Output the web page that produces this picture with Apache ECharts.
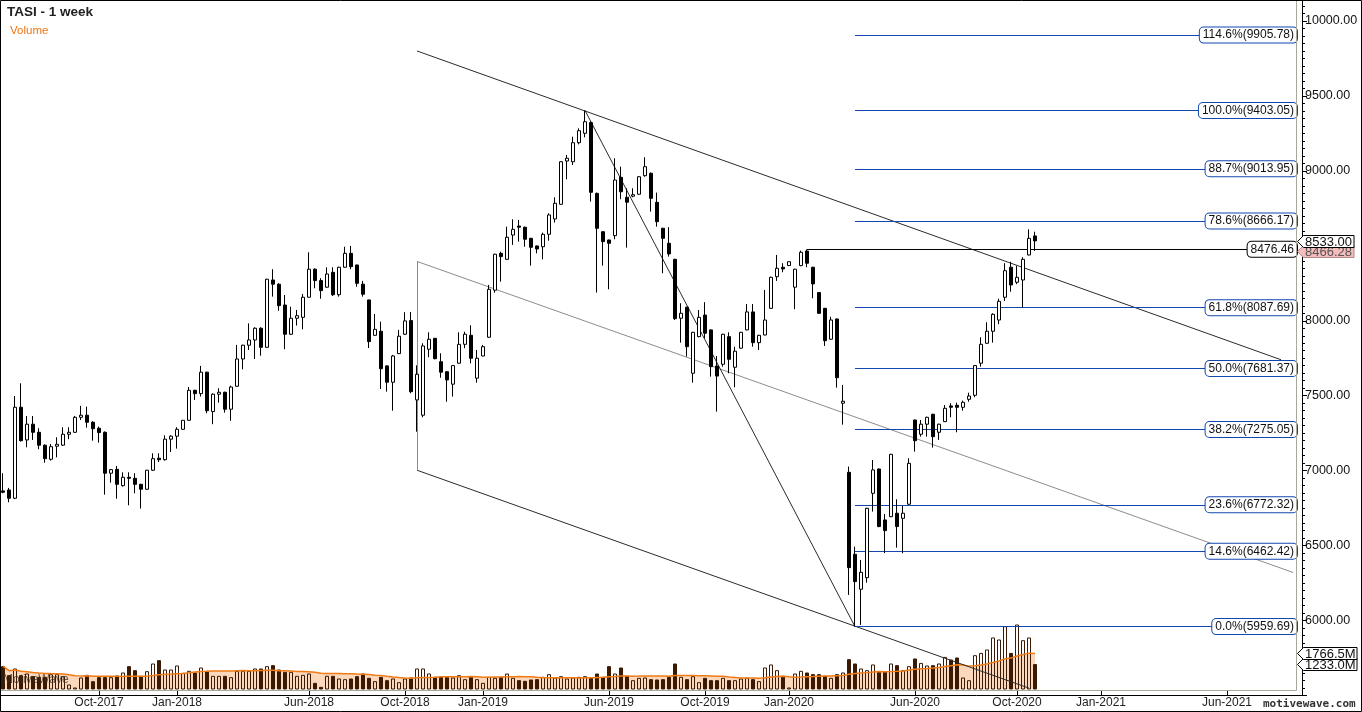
<!DOCTYPE html>
<html><head><meta charset="utf-8">
<script src="https://cdn.jsdelivr.net/npm/echarts@6/dist/echarts.min.js"></script>
<style>html,body{margin:0;padding:0;background:#fff;}#c{width:1362px;height:712px;}</style>
</head><body><div id="c"></div>
<script>
// ---- data (weekly TASI) ----
const opens = [6865,6871,6816,7423,7205,7310,7256,7170,7076,7163,7170,7243,7256,7356,7370,7323,7283,7256,6983,7009,6900,6956,6949,6909,6876,7003,7083,7073,7210,7230,7276,7336,7536,7514,7657,7394,7510,7523,7410,7563,7745,7837,7872,7950,7823,8272,8244,8105,7910,8017,8023,8157,8344,8268,8224,8323,8174,8357,8450,8372,8244,8139,7903,7930,7699,7590,7781,7910,8001,7472,7370,7810,7883,7727,7660,7577,7717,7843,7903,7617,7765,7890,8204,8450,8410,8572,8632,8624,8550,8499,8494,8577,8679,8777,9066,9061,9188,9251,9322,8850,8594,8539,8568,8957,8824,8831,8844,8968,8984,8790,8617,8517,8410,8017,8090,7650,7894,8038,7939,7698,7710,7894,7690,7817,7939,8059,7854,7905,8083,8294,8357,8368,8224,8368,8465,8357,8188,8083,7877,8012,7450,6989,6442,6209,6286,6849,7011,6671,6693,6716,6682,6776,7338,7243,7310,7376,7256,7327,7432,7436,7423,7476,7503,7717,7850,7930,8005,8157,8357,8257,8272,8439,8566];
const highs = [6983,6885,7498,7583,7365,7365,7283,7175,7178,7223,7290,7290,7365,7432,7427,7330,7294,7262,7010,7031,6989,6989,6983,6912,7005,7116,7116,7236,7236,7290,7338,7558,7540,7699,7660,7516,7550,7527,7567,7839,7840,7983,7957,7957,8280,8344,8250,8172,8094,8072,8179,8457,8350,8284,8357,8357,8360,8494,8499,8375,8266,8140,8045,7994,7703,7772,7939,8057,8059,7703,7850,7923,7885,7783,7665,7703,7923,7927,7970,7805,7839,8239,8447,8461,8628,8677,8673,8628,8553,8502,8588,8717,8824,9065,9106,9228,9284,9403.05,9330,8855,8597,8541,9084,9028,8884,8884,8964,9091,8990,8855,8620,8624,8413,8117,8094,7926,8072,8124,7942,7765,7913,7923,7827,7926,8112,8112,7906,8206,8294,8439,8384,8396,8347,8468,8476.46,8360,8190,8086,8027,8015,7572,7027,6493,6404,6752,7071,7014,6711,7112,6809,6765,7083,7340,7338,7360,7380,7313,7438,7450,7454,7467,7520,7703,7890,7990,8050,8147,8384,8394,8366,8424,8610,8594];
const lows = [6849,6789,6810,7194,7156,7205,7143,7053,7067,7089,7165,7210,7252,7338,7287,7200,7187,6840,6920,6813,6893,6769,6849,6747,6872,6998,7058,7067,7125,7147,7274,7334,7472,7494,7383,7310,7454,7387,7332,7560,7676,7805,7745,7767,7820,8161,8067,7810,7905,7968,7943,8155,8217,8147,8220,8165,8161,8355,8344,8227,8161,7818,7900,7545,7527,7400,7778,7905,7516,7260,7356,7757,7743,7620,7460,7494,7714,7817,7716,7587,7763,7887,8187,8261,8406,8506,8528,8494,8368,8450,8410,8534,8655,8775,8944,9039,9177,9224,8795,8188,8368,8210,8544,8811,8488,8824,8841,8961,8728,8628,8317,8428,8005,7854,7761,7587,7890,7883,7627,7394,7694,7650,7556,7814,7937,7827,7805,7903,8081,8266,8324,8366,8077,8364,8357,8150,8045,7832,7874,7554,7307,6171,5959.69,5971,6253,6727,6623,6450,6690,6486,6449,6772,7127,7227,7227,7154,7205,7325,7356,7256,7400,7460,7490,7694,7847,7854,7977,8132,8194,8244,8090,8436,8466.28];
const closes = [6856,6816,7423,7200,7310,7256,7170,7080,7160,7176,7243,7256,7356,7370,7323,7280,7254,6983,7007,6909,6956,6949,6909,6876,7003,7080,7073,7210,7230,7276,7336,7536,7514,7657,7400,7510,7523,7410,7558,7745,7837,7872,7950,7823,8277,8244,8101,7910,8017,8034,8157,8344,8268,8201,8312,8174,8357,8450,8361,8250,8177,7861,7943,7680,7590,7765,7897,7999,7527,7643,7832,7877,7747,7657,7605,7701,7843,7910,7750,7750,7827,8210,8444,8428,8557,8610,8624,8544,8490,8479,8577,8706,8784,9061,9084,9188,9268,9328,8857,8617,8528,8517,8939,8861,8791,8841,8961,9028,8817,8661,8550,8446,8014,8050,7827,7923,8023,7917,7694,7631,7910,7743,7797,7923,8059,7854,7903,8005,8290,8350,8346,8394,8344,8457,8384,8246,8050,7867,8005,7620,7463,6353,6260,6322,6749,7005,6627,6600,7109,6627,6716,7049,7200,7310,7356,7227,7310,7416,7423,7423,7456,7498,7701,7843,7930,8043,8130,8334,8239,8290,8410,8550,8533];
const volumes = [1132,695,1019,695,776,647,614,614,744,744,647,243,97,582,711,404,598,598,598,679,825,1132,938,663,889,1261,1423,970,970,1164,808,905,825,1067,905,663,663,663,598,905,905,905,1019,1019,1132,1180,970,857,857,663,711,776,323,129,663,663,534,501,534,647,776,566,404,614,453,534,356,534,582,1019,1019,776,614,614,614,
582,695,501,614,501,323,614,566,614,776,566,453,420,485,501,614,744,582,647,534,582,614,647,566,776,614,1132,776,1067,663,453,566,582,501,485,501,614,1261,614,501,647,356,566,453,453,566,453,453,534,566,501,404,1067,1213,938,663,97,776,905,825,744,744,663,566,744,825,1471,1261,1019,938,1213,857,857,1261,1180,
936,1130,1504,1290,1164,1179,1261,1581,1455,1552,582,451,1664,1775,1940,2522,2425,3070,1775,3153,2391,2522,1233];

const fibLevels = [114.6, 100.0, 88.7, 78.6, 61.8, 50.0, 38.2, 23.6, 14.6, 0.0];
const fibValues = [9905.78, 9403.05, 9013.95, 8666.17, 8087.69, 7681.37, 7275.05, 6772.32, 6462.42, 5959.69];
const FIB_START = 142;           // bar of the 0% low
const resistanceLevel = 8476.46; const RES_START = 134;
const lastPrice = 8533.00; const secondPrice = 8466.28;
const volMA = 1766.5; const lastVol = 1233.0;

// trend lines as [barIndex, price] pairs
const channelUpper = [[69, 9800], [213, 7740]];
const channelMiddle = [[69, 8396], [215, 6321]];
const channelLower = [[69, 7003], [171, 5549]];
const channelLeft = [[69, 8396], [69, 7003]];
const swingLine = [[97, 9403.05], [142, 5959.69]];

const tickLabels = ['Oct-2017','Jan-2018','Jun-2018','Oct-2018','Jan-2019','Jun-2019','Oct-2019','Jan-2020','Jun-2020','Oct-2020','Jan-2021','Jun-2021'];
const tickIndex = [16, 29, 51, 67, 80, 101, 117, 131, 152, 169, 183, 204];
const hiddenPriceLabels = [8500];   // covered by the last-price tags in the original
const TOTAL_SLOTS = 217;

// ---- styles ----
const FONT = '"Liberation Sans", Arial, sans-serif';
const PLOT_RIGHT = 1297;
const FIB_COLOR = '#1447ad';
const VOL_DARK = '#3a1a04';

const categories = Array.from({length: TOTAL_SLOTS}, (_, i) => String(i));
const ohlc = opens.map((o, i) => [o, closes[i], lows[i], highs[i]]);
const up = closes.map((c, i) => c >= opens[i]);
const volData = volumes.map((v, i) => ({
  value: v,
  itemStyle: up[i] ? {color: 'rgba(0,0,0,0)', borderColor: VOL_DARK, borderWidth: 1}
                   : {color: VOL_DARK, borderColor: VOL_DARK, borderWidth: 1}
}));
const ma20 = volumes.map((v, i) => {
  const s = Math.max(0, i - 19); let sum = 0;
  for (let k = s; k <= i; k++) sum += volumes[k];
  return +(sum / (i - s + 1)).toFixed(1);
});
const labelMap = {}; tickIndex.forEach((t, i) => labelMap[t] = tickLabels[i]);

const boxLabel = (text, border) => ({
  show: true, position: 'insideEnd', distance: 0, formatter: text,
  fontFamily: FONT, fontSize: 12, color: '#111', backgroundColor: '#fff',
  borderColor: border, borderWidth: 1, borderRadius: 4, padding: [2, 3, 1, 3]
});
const seg = (pts, color) => [
  {coord: pts[0], lineStyle: {color: color, width: 1, type: 'solid'}, label: {show: false}},
  {coord: pts[1]}
];
const markData = [
  seg(channelUpper, '#2b2b2b'), seg(channelMiddle, '#8c8c8c'), seg(channelLower, '#2b2b2b'),
  seg(channelLeft, '#8c8c8c'), seg(swingLine, '#2b2b2b'),
  [{coord: [RES_START, resistanceLevel], lineStyle: {color: '#000', width: 1, type: 'solid'},
    label: boxLabel(resistanceLevel.toFixed(2), '#000')},
   {coord: [TOTAL_SLOTS - 1, resistanceLevel], x: PLOT_RIGHT}]
].concat(fibLevels.map((lv, i) => [
  {coord: [FIB_START, fibValues[i]], lineStyle: {color: FIB_COLOR, width: 1, type: 'solid'},
   label: boxLabel(lv.toFixed(1) + '%(' + fibValues[i].toFixed(2) + ')', FIB_COLOR)},
  {coord: [TOTAL_SLOTS - 1, fibValues[i]], x: PLOT_RIGHT}
]));

const chart = echarts.init(document.getElementById('c'), null, {width: 1362, height: 712});
chart.setOption({
  animation: false,
  backgroundColor: '#fff',
  grid: [
    {left: 0, right: 60, top: 0, bottom: 16.5},
    {left: 0, right: 60, bottom: 22.5, height: 66}
  ],
  xAxis: [
    {type: 'category', data: categories, gridIndex: 0, boundaryGap: true,
     axisLine: {lineStyle: {color: '#000', width: 1}},
     axisTick: {show: true, inside: true, length: 5, alignWithLabel: true,
                interval: (i) => labelMap[i] !== undefined, lineStyle: {color: '#000'}},
     axisLabel: {interval: (i) => labelMap[i] !== undefined, formatter: (v, i) => labelMap[i] || '',
                 margin: 1, fontFamily: FONT, fontSize: 12, color: '#222'},
     splitLine: {show: false}},
    {type: 'category', data: categories, gridIndex: 1, show: false, boundaryGap: true}
  ],
  yAxis: [
    {type: 'value', gridIndex: 0, position: 'right', min: 5500, max: 10140, interval: 500,
     axisLine: {show: true, lineStyle: {color: '#000'}},
     axisTick: {show: true, length: 5, lineStyle: {color: '#000'}},
     minorTick: {show: true, splitNumber: 10, length: 3, lineStyle: {color: '#000'}},
     splitLine: {show: false},
     axisLabel: {margin: 3, fontFamily: FONT, fontSize: 12.5, color: '#111',
                 formatter: (v) => (v >= 6000 && v <= 10000 && v % 500 === 0 && hiddenPriceLabels.indexOf(v) < 0) ? v.toFixed(2) : ''}},
    {type: 'value', gridIndex: 1, min: 0, max: 3200, show: false, splitLine: {show: false}}
  ],
  series: [
    {type: 'line', name: 'volMAArea', xAxisIndex: 1, yAxisIndex: 1, data: ma20, showSymbol: false,
     symbol: 'none', lineStyle: {width: 0}, areaStyle: {color: '#fbd8bb', opacity: 1}, z: 1, silent: true},
    {type: 'bar', name: 'Volume', xAxisIndex: 1, yAxisIndex: 1, data: volData, barWidth: 4, z: 2, silent: true},
    {type: 'line', name: 'volMA', xAxisIndex: 1, yAxisIndex: 1, data: ma20, showSymbol: false,
     symbol: 'none', lineStyle: {color: '#f07a14', width: 1.5}, z: 3, silent: true},
    {type: 'candlestick', name: 'TASI', xAxisIndex: 0, yAxisIndex: 0, data: ohlc, barWidth: 4, z: 5,
     itemStyle: {color: '#fff', color0: '#000', borderColor: '#000', borderColor0: '#000', borderWidth: 1},
     markLine: {silent: true, symbol: ['none', 'none'], animation: false, label: {show: false},
                emphasis: {disabled: true}, data: markData}}
  ]
});

function pointer(text, y, fill, stroke, color, w, z) {
  const cy = Math.round(y) + 0.5;
  return [
    {type: 'polygon', z: z, shape: {points: [[PLOT_RIGHT + 0.5, cy], [PLOT_RIGHT + 6.5, cy - 6], [PLOT_RIGHT + w, cy - 6], [PLOT_RIGHT + w, cy + 6], [PLOT_RIGHT + 6.5, cy + 6]]},
     style: {fill: fill, stroke: stroke, lineWidth: 1}},
    {type: 'text', z: z, style: {text: text, x: PLOT_RIGHT + 8, y: cy + 0.5, font: '13px ' + FONT, fill: color,
     verticalAlign: 'middle', align: 'left'}}
  ];
}
const yLast = chart.convertToPixel({yAxisIndex: 0}, lastPrice);
const ySecond = chart.convertToPixel({yAxisIndex: 0}, secondPrice);
const yMA = chart.convertToPixel({yAxisIndex: 1}, volMA);
const yVol = chart.convertToPixel({yAxisIndex: 1}, lastVol);

chart.setOption({
  graphic: [
    {type: 'polyline', z: 50, shape: {points: [[0, 690.5], [1296.5, 690.5], [1296.5, 0]]},
     style: {stroke: '#aaa89c', lineWidth: 1, fill: null}},
    {type: 'rect', z: 60, shape: {x: 0.5, y: 0.5, width: 1361, height: 711},
     style: {fill: null, stroke: '#000', lineWidth: 1}},
    {type: 'text', z: 60, style: {text: 'TASI - 1 week', x: 7, y: 12, font: 'bold 13.5px ' + FONT,
     fill: '#222', verticalAlign: 'middle'}},
    {type: 'text', z: 60, style: {text: 'Volume', x: 10, y: 30.5, font: '11.5px ' + FONT,
     fill: '#ee7410', verticalAlign: 'middle'}},
    {type: 'text', z: 60, style: {text: 'MotiveWave', x: 3, y: 680, font: '12px ' + FONT,
     fill: 'rgba(60,45,30,0.75)', verticalAlign: 'middle'}},
    {type: 'text', z: 60, style: {text: 'motivewave.com', x: 1263, y: 704,
     font: 'bold 11px "DejaVu Sans Mono", monospace', fill: '#333', verticalAlign: 'middle'}}
  ].concat(
    pointer(secondPrice.toFixed(2), ySecond, '#f5bcbc', '#b08a8a', '#555', 57, 100),
    pointer(lastPrice.toFixed(2), yLast, '#fff', '#000', '#111', 57, 101),
    pointer(lastVol.toFixed(1) + 'M', yVol, '#fff', '#000', '#111', 60, 100),
    pointer(volMA.toFixed(1) + 'M', yMA, '#fff', '#000', '#111', 60, 101)
  )
});
</script>
</body></html>
